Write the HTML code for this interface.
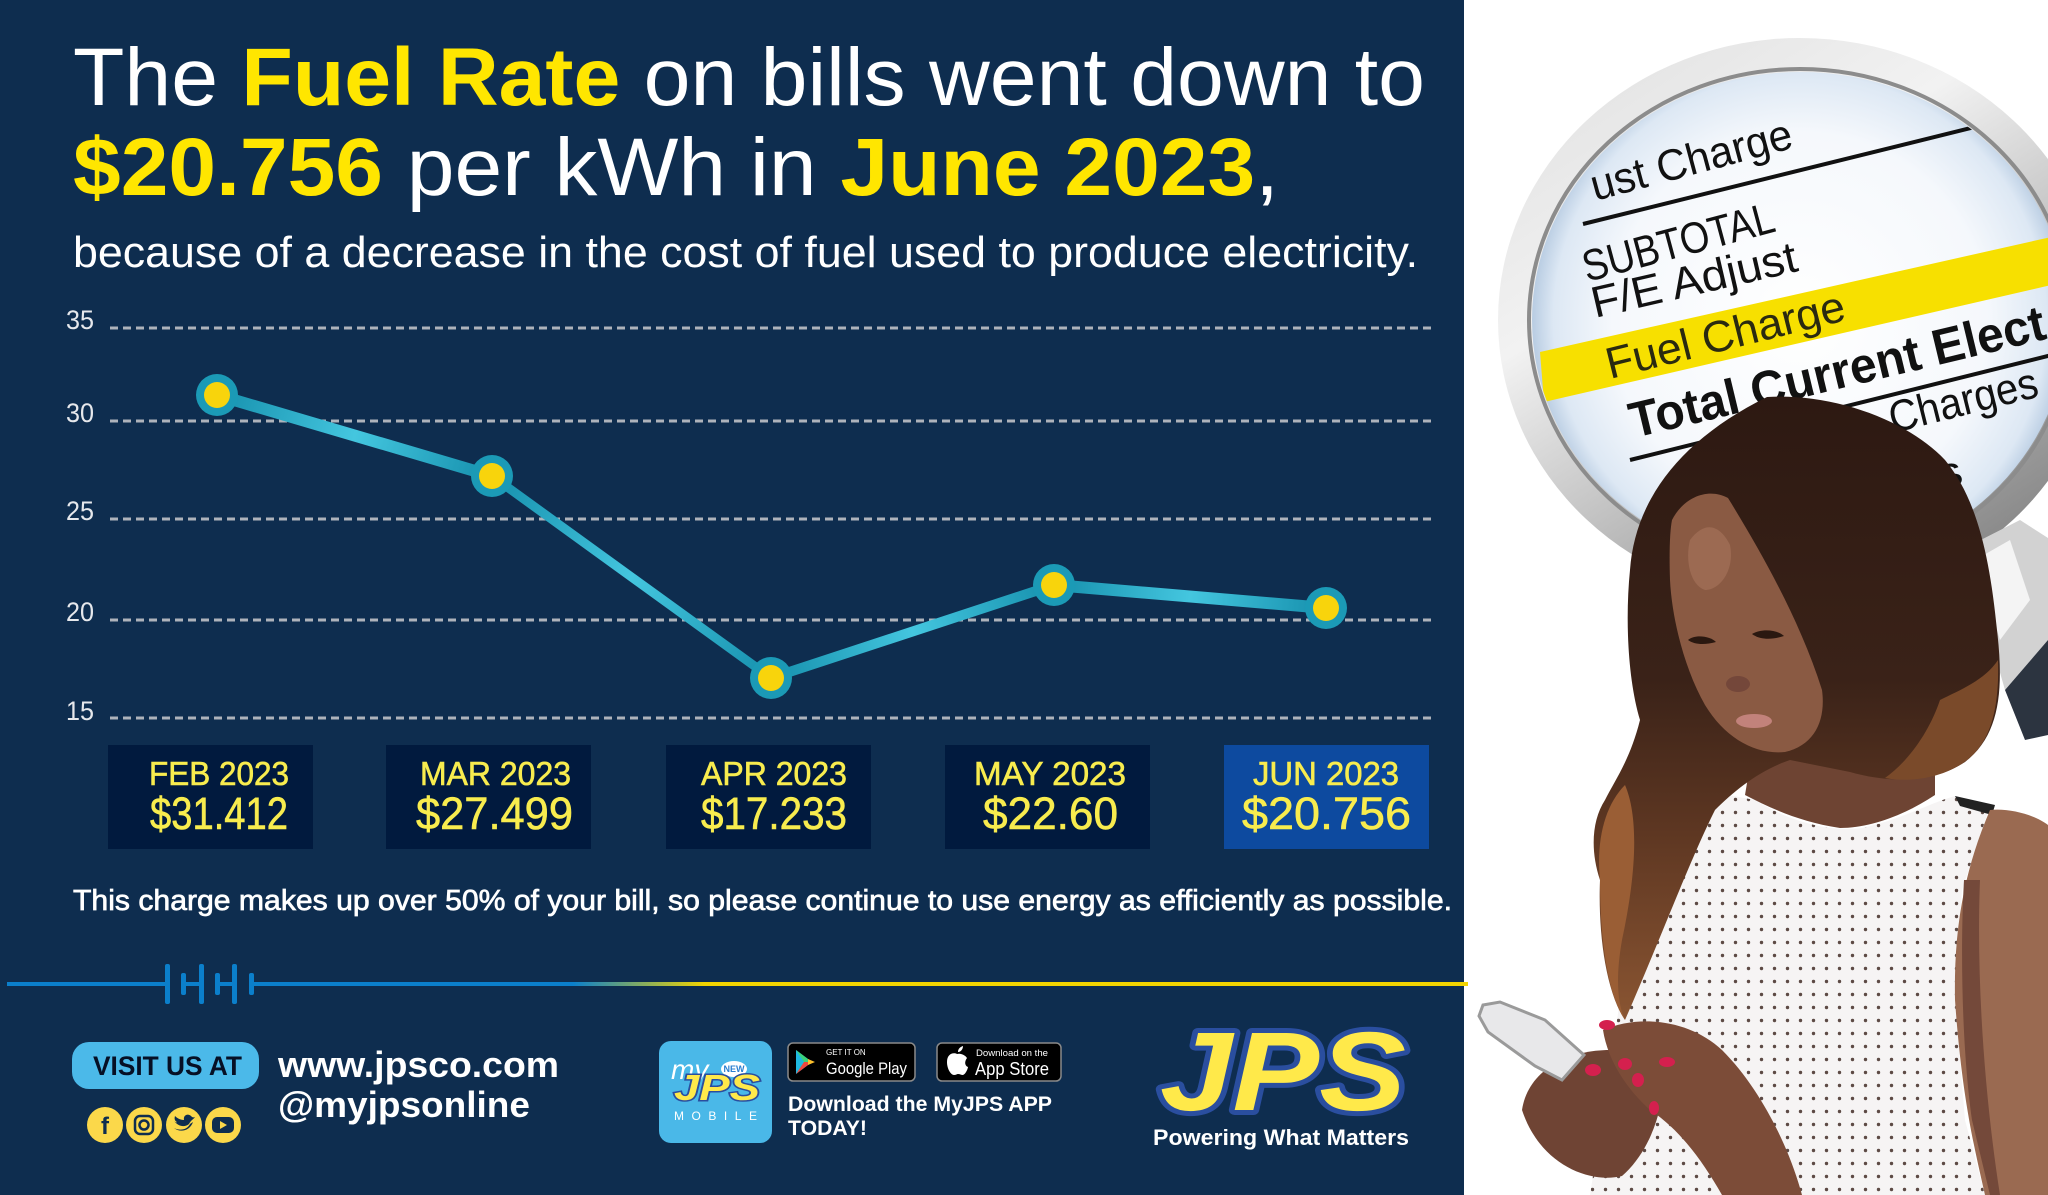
<!DOCTYPE html>
<html><head><meta charset="utf-8"><style>
html,body{margin:0;padding:0;width:2048px;height:1195px;overflow:hidden;background:#0e2d4f}
svg{display:block}
text{font-family:"Liberation Sans",Arial,sans-serif}
</style></head><body>
<svg width="2048" height="1195" viewBox="0 0 2048 1195" xmlns="http://www.w3.org/2000/svg">
<defs>
 <linearGradient id="div" gradientUnits="userSpaceOnUse" x1="0" y1="0" x2="1468" y2="0">
  <stop offset="0" stop-color="#0b7fcb"/><stop offset="0.39" stop-color="#0b7fcb"/><stop offset="0.48" stop-color="#f2d400"/><stop offset="1" stop-color="#f2d400"/>
 </linearGradient>
 <linearGradient id="s1" gradientUnits="userSpaceOnUse" x1="217" y1="395" x2="492" y2="476"><stop offset="0" stop-color="#1690ad"/><stop offset="0.5" stop-color="#44c6df"/><stop offset="1" stop-color="#1690ad"/></linearGradient>
 <linearGradient id="s2" gradientUnits="userSpaceOnUse" x1="492" y1="476" x2="771" y2="678"><stop offset="0" stop-color="#1690ad"/><stop offset="0.5" stop-color="#44c6df"/><stop offset="1" stop-color="#1690ad"/></linearGradient>
 <linearGradient id="s3" gradientUnits="userSpaceOnUse" x1="771" y1="678" x2="1054" y2="585"><stop offset="0" stop-color="#1690ad"/><stop offset="0.5" stop-color="#44c6df"/><stop offset="1" stop-color="#1690ad"/></linearGradient>
 <linearGradient id="s4" gradientUnits="userSpaceOnUse" x1="1054" y1="585" x2="1326" y2="608"><stop offset="0" stop-color="#1690ad"/><stop offset="0.5" stop-color="#44c6df"/><stop offset="1" stop-color="#1690ad"/></linearGradient>
 <radialGradient id="lens" gradientUnits="userSpaceOnUse" cx="1800" cy="320" r="268">
  <stop offset="0" stop-color="#ffffff"/><stop offset="0.7" stop-color="#f5f8fc"/><stop offset="0.92" stop-color="#dde8f4"/><stop offset="1" stop-color="#b8cce2"/>
 </radialGradient>
 <linearGradient id="rim" gradientUnits="userSpaceOnUse" x1="1560" y1="60" x2="1900" y2="600">
  <stop offset="0" stop-color="#e2e2e2"/><stop offset="0.35" stop-color="#f2f2f2"/><stop offset="0.7" stop-color="#b8b8b8"/><stop offset="1" stop-color="#8a8a8a"/>
 </linearGradient>
 <linearGradient id="hair" gradientUnits="userSpaceOnUse" x1="0" y1="400" x2="0" y2="1020">
  <stop offset="0" stop-color="#2d1912"/><stop offset="0.45" stop-color="#3a2218"/><stop offset="0.7" stop-color="#5e3722"/><stop offset="1" stop-color="#8a5532"/>
 </linearGradient>
 <clipPath id="lensClip"><ellipse cx="1800" cy="320" rx="268" ry="248"/></clipPath>
 <pattern id="dots" width="13" height="13" patternUnits="userSpaceOnUse">
  <rect width="13" height="13" fill="#f6f4f4"/><circle cx="6.5" cy="6.5" r="1.7" fill="#5d4a45"/>
 </pattern>
</defs>

<!-- panels -->
<rect x="0" y="0" width="1464" height="1195" fill="#0e2d4f"/>
<rect x="1464" y="0" width="584" height="1195" fill="#ffffff"/>

<!-- headline -->
<text x="73" y="105" font-size="82" fill="#ffffff" textLength="1352" lengthAdjust="spacingAndGlyphs">The <tspan font-weight="bold" fill="#ffe600">Fuel Rate</tspan> on bills went down to</text>
<text x="73" y="195" font-size="82" fill="#ffffff" textLength="1206" lengthAdjust="spacingAndGlyphs"><tspan font-weight="bold" fill="#ffe600">$20.756</tspan> per kWh in <tspan font-weight="bold" fill="#ffe600">June 2023</tspan>,</text>
<text x="73" y="267" font-size="44" fill="#ffffff" textLength="1345" lengthAdjust="spacingAndGlyphs">because of a decrease in the cost of fuel used to produce electricity.</text>

<!-- grid -->
<g stroke="#aeb3bb" stroke-width="3" stroke-dasharray="8 5">
 <line x1="110" y1="328" x2="1432" y2="328"/>
 <line x1="110" y1="421" x2="1432" y2="421"/>
 <line x1="110" y1="519" x2="1432" y2="519"/>
 <line x1="110" y1="620" x2="1432" y2="620"/>
 <line x1="110" y1="718" x2="1432" y2="718"/>
</g>
<g font-size="27" fill="#e6e8ec">
 <text x="66" y="329" textLength="28" lengthAdjust="spacingAndGlyphs">35</text>
 <text x="66" y="422" textLength="28" lengthAdjust="spacingAndGlyphs">30</text>
 <text x="66" y="520" textLength="28" lengthAdjust="spacingAndGlyphs">25</text>
 <text x="66" y="621" textLength="28" lengthAdjust="spacingAndGlyphs">20</text>
 <text x="66" y="720" textLength="28" lengthAdjust="spacingAndGlyphs">15</text>
</g>

<!-- series -->
<g stroke-linecap="round">
 <line x1="217" y1="395" x2="492" y2="476" stroke="url(#s1)" stroke-width="12"/>
 <line x1="492" y1="476" x2="771" y2="678" stroke="url(#s2)" stroke-width="9"/>
 <line x1="771" y1="678" x2="1054" y2="585" stroke="url(#s3)" stroke-width="10"/>
 <line x1="1054" y1="585" x2="1326" y2="608" stroke="url(#s4)" stroke-width="12"/>
</g>
<g>
 <circle cx="217" cy="395" r="21" fill="#1b9ab6"/><circle cx="217" cy="395" r="13" fill="#f8d40c"/>
 <circle cx="492" cy="476" r="21" fill="#1b9ab6"/><circle cx="492" cy="476" r="13" fill="#f8d40c"/>
 <circle cx="771" cy="678" r="21" fill="#1b9ab6"/><circle cx="771" cy="678" r="13" fill="#f8d40c"/>
 <circle cx="1054" cy="585" r="21" fill="#1b9ab6"/><circle cx="1054" cy="585" r="13" fill="#f8d40c"/>
 <circle cx="1326" cy="608" r="21" fill="#1b9ab6"/><circle cx="1326" cy="608" r="13" fill="#f8d40c"/>
</g>

<!-- value boxes -->
<rect x="108" y="745" width="205" height="104" fill="#011a3e"/>
<rect x="386" y="745" width="205" height="104" fill="#011a3e"/>
<rect x="666" y="745" width="205" height="104" fill="#011a3e"/>
<rect x="945" y="745" width="205" height="104" fill="#011a3e"/>
<rect x="1224" y="745" width="205" height="104" fill="#0d4a9f"/>
<g fill="#f8ec4e" stroke="#f8ec4e" stroke-width="0.6">
 <text x="149" y="785" font-size="33" textLength="140" lengthAdjust="spacingAndGlyphs">FEB 2023</text>
 <text x="150" y="829" font-size="45" textLength="138" lengthAdjust="spacingAndGlyphs">$31.412</text>
 <text x="420" y="785" font-size="33" textLength="151" lengthAdjust="spacingAndGlyphs">MAR 2023</text>
 <text x="416" y="829" font-size="45" textLength="157" lengthAdjust="spacingAndGlyphs">$27.499</text>
 <text x="701" y="785" font-size="33" textLength="146" lengthAdjust="spacingAndGlyphs">APR 2023</text>
 <text x="701" y="829" font-size="45" textLength="146" lengthAdjust="spacingAndGlyphs">$17.233</text>
 <text x="974" y="785" font-size="33" textLength="152" lengthAdjust="spacingAndGlyphs">MAY 2023</text>
 <text x="983" y="829" font-size="45" textLength="135" lengthAdjust="spacingAndGlyphs">$22.60</text>
 <text x="1253" y="785" font-size="33" textLength="146" lengthAdjust="spacingAndGlyphs">JUN 2023</text>
 <text x="1242" y="829" font-size="45" textLength="169" lengthAdjust="spacingAndGlyphs">$20.756</text>
</g>

<text x="73" y="910" font-size="29" fill="#ffffff" stroke="#ffffff" stroke-width="0.7" textLength="1379" lengthAdjust="spacingAndGlyphs">This charge makes up over 50% of your bill, so please continue to use energy as efficiently as possible.</text>

<!-- divider -->
<g stroke="url(#div)" stroke-width="4">
 <line x1="7" y1="984" x2="167" y2="984"/>
 <line x1="183" y1="984" x2="201" y2="984"/>
 <line x1="217" y1="984" x2="234" y2="984"/>
 <line x1="251" y1="984" x2="1468" y2="984"/>
</g>
<g fill="#0b7fcb">
 <rect x="165" y="964" width="5" height="40" rx="2"/>
 <rect x="181" y="973" width="5" height="22" rx="2"/>
 <rect x="199" y="964" width="5" height="40" rx="2"/>
 <rect x="215" y="973" width="5" height="22" rx="2"/>
 <rect x="232" y="964" width="5" height="40" rx="2"/>
 <rect x="249" y="973" width="5" height="22" rx="2"/>
</g>

<!-- footer left -->
<rect x="72" y="1042" width="187" height="47" rx="17" fill="#4bb9e9"/>
<text x="93" y="1075" font-size="27" font-weight="bold" fill="#061025" textLength="149" lengthAdjust="spacingAndGlyphs">VISIT US AT</text>
<text x="278" y="1077" font-size="36" font-weight="bold" fill="#ffffff" textLength="281" lengthAdjust="spacingAndGlyphs">www.jpsco.com</text>
<text x="278" y="1117" font-size="36" font-weight="bold" fill="#ffffff" textLength="252" lengthAdjust="spacingAndGlyphs">@myjpsonline</text>
<g fill="#fbd84a">
 <circle cx="105" cy="1125" r="18"/><circle cx="144" cy="1125" r="18"/><circle cx="184" cy="1125" r="18"/><circle cx="223" cy="1125" r="18"/>
</g>
<text x="105" y="1134" font-size="24" font-weight="bold" fill="#0e2d4f" text-anchor="middle">f</text>
<rect x="135" y="1116" width="18" height="18" rx="5" fill="none" stroke="#0e2d4f" stroke-width="2.5"/>
<circle cx="144" cy="1125" r="4.5" fill="none" stroke="#0e2d4f" stroke-width="2.5"/>
<path d="M174,1121 C178,1126 184,1128 189,1124 C191,1120 194,1119 195,1117 C193,1118 192,1117 191,1116 C188,1113 183,1115 184,1120 C180,1120 177,1118 175,1116 C174,1119 175,1121 177,1122 C176,1123 175,1122 174,1121 Z M174,1128 C180,1133 190,1131 193,1122 L190,1124 C187,1130 180,1131 174,1128Z" fill="#0e2d4f"/>
<rect x="212" y="1117" width="22" height="16" rx="5" fill="#0e2d4f"/>
<polygon points="220,1121 220,1129 227,1125" fill="#fbd84a"/>

<!-- app icon -->
<rect x="659" y="1041" width="113" height="102" rx="12" fill="#4ab8e8"/>
<text x="671" y="1079" font-size="28" font-style="italic" fill="#ffffff" font-family="Liberation Serif, serif">my</text>
<ellipse cx="734" cy="1069" rx="13" ry="8" fill="#ffffff"/>
<text x="734" y="1072" font-size="9" font-weight="bold" fill="#2a7fd0" text-anchor="middle">NEW</text>
<text x="674" y="1100" font-size="36" font-weight="bold" font-style="italic" fill="#ffe94a" stroke="#2a4e9f" stroke-width="3" paint-order="stroke" textLength="86" lengthAdjust="spacingAndGlyphs">JPS</text>
<text x="674" y="1120" font-size="12" fill="#ffffff" textLength="83" lengthAdjust="spacing">MOBILE</text>

<!-- badges -->
<rect x="788" y="1043" width="127" height="38" rx="5" fill="#000" stroke="#8a8a8a" stroke-width="1.5"/>
<polygon points="796,1050 812,1062 796,1074" fill="#1fb8e0"/>
<polygon points="796,1050 812,1062 804,1062" fill="#3bd27a"/>
<polygon points="796,1074 812,1062 804,1062" fill="#f0473e"/>
<polygon points="808,1059 815,1062 808,1065" fill="#fbc02d"/>
<text x="826" y="1055" font-size="8" fill="#ffffff">GET IT ON</text>
<text x="826" y="1074" font-size="17" fill="#ffffff" textLength="81" lengthAdjust="spacingAndGlyphs">Google Play</text>
<rect x="937" y="1043" width="124" height="38" rx="5" fill="#000" stroke="#8a8a8a" stroke-width="1.5"/>
<path d="M957,1054 C953,1052 947,1054 947,1062 C947,1069 951,1075 954,1075 C956,1075 957,1074 958,1074 C960,1074 961,1075 963,1075 C966,1074 968,1068 968,1067 C965,1066 964,1062 967,1058 C965,1055 961,1053 957,1054Z M958,1052 C958,1049 960,1047 963,1046 C963,1049 961,1052 958,1052Z" fill="#ffffff"/>
<text x="976" y="1056" font-size="9" fill="#ffffff" textLength="72" lengthAdjust="spacingAndGlyphs">Download on the</text>
<text x="975" y="1075" font-size="18" fill="#ffffff" textLength="74" lengthAdjust="spacingAndGlyphs">App Store</text>
<text x="788" y="1111" font-size="21" font-weight="bold" fill="#ffffff" textLength="264" lengthAdjust="spacingAndGlyphs">Download the MyJPS APP</text>
<text x="788" y="1135" font-size="21" font-weight="bold" fill="#ffffff" textLength="79" lengthAdjust="spacingAndGlyphs">TODAY!</text>

<!-- JPS logo -->
<text x="1160" y="1110" font-size="112" font-weight="bold" font-style="italic" fill="#ffe94a" stroke="#2a4e9f" stroke-width="10" stroke-linejoin="round" paint-order="stroke" textLength="246" lengthAdjust="spacingAndGlyphs">JPS</text>
<text x="1153" y="1145" font-size="22" font-weight="bold" fill="#ffffff" textLength="256" lengthAdjust="spacingAndGlyphs">Powering What Matters</text>

<!-- magnifier -->
<ellipse cx="1800" cy="320" rx="302" ry="282" fill="url(#rim)"/>
<ellipse cx="1800" cy="320" rx="271" ry="251" fill="none" stroke="#8c8c8c" stroke-width="4"/>
<ellipse cx="1800" cy="320" rx="268" ry="248" fill="url(#lens)"/>
<g clip-path="url(#lensClip)" fill="#111">
 <text transform="translate(1595,201) rotate(-15)" font-size="44" textLength="207" lengthAdjust="spacingAndGlyphs">ust Charge</text>
 <line x1="1583" y1="224" x2="2100" y2="96" stroke="#111" stroke-width="4"/>
 <text transform="translate(1587,282) rotate(-15)" font-size="44" textLength="197" lengthAdjust="spacingAndGlyphs">SUBTOTAL</text>
 <text transform="translate(1595,318) rotate(-13)" font-size="44" textLength="210" lengthAdjust="spacingAndGlyphs">F/E Adjust</text>
 <polygon points="1540,352 2060,235 2060,283 1544,402" fill="#f7e000"/>
 <text transform="translate(1610,379) rotate(-14)" font-size="44" fill="#2a2a10" textLength="245" lengthAdjust="spacingAndGlyphs">Fuel  Charge</text>
 <text transform="translate(1634,438) rotate(-13.5)" font-size="50" font-weight="bold" textLength="426" lengthAdjust="spacingAndGlyphs">Total Current Elect</text>
 <line x1="1630" y1="460" x2="2100" y2="343" stroke="#111" stroke-width="4"/>
 <text transform="translate(1893,433) rotate(-14)" font-size="44" textLength="152" lengthAdjust="spacingAndGlyphs">Charges</text>
 <text transform="translate(1640,565) rotate(-14)" font-size="44" textLength="335" lengthAdjust="spacingAndGlyphs">Misc. Charges</text>
</g>
<!-- handle -->
<polygon points="1965,548 2020,520 2048,538 2048,640 2005,690 1985,620" fill="#d2d2d2"/>
<polygon points="1975,560 2010,540 2030,600 2000,640" fill="#f4f4f4"/>
<polygon points="2005,690 2048,640 2048,735 2025,740" fill="#2c3440"/>

<!-- woman -->
<!-- dress -->
<path d="M1712,792 L1755,800 C1790,822 1830,832 1862,828 C1900,820 1930,803 1955,796 L1988,812 L1962,890 L1955,1000 L1965,1120 L1985,1195 L1590,1195 L1605,1100 L1620,1000 L1660,900 Z" fill="url(#dots)"/>
<path d="M1955,796 L1995,805 L1992,815 L1960,806 Z" fill="#222"/>
<!-- arm -->
<path d="M1990,810 C2010,808 2035,815 2048,825 L2048,1195 L1985,1195 C1975,1150 1962,1100 1955,1000 C1954,940 1960,880 1990,810 Z" fill="#9a6a51"/>
<path d="M1964,880 C1960,950 1962,1050 1972,1120 L1990,1195 L2000,1195 C1985,1100 1976,980 1980,880 Z" fill="#74493a"/>
<!-- neck -->
<path d="M1755,735 L1880,745 L1935,775 L1935,795 C1905,815 1870,828 1840,828 C1800,822 1770,808 1745,795 Z" fill="#6e4433"/>
<!-- hair -->
<path d="M1767,397 C1830,393 1905,418 1945,460 C1978,500 1990,560 1997,630 C2004,690 2000,735 1965,762 C1930,785 1885,782 1850,772 L1790,760 C1760,770 1735,790 1715,810 C1690,860 1660,940 1625,1020 C1605,990 1598,930 1600,880 C1590,850 1592,820 1605,800 C1615,780 1630,760 1640,720 C1628,680 1625,620 1630,570 C1635,500 1680,440 1767,397 Z" fill="url(#hair)"/>
<path d="M1600,880 C1596,840 1605,805 1625,785 C1640,820 1635,880 1622,940 C1615,980 1618,1005 1625,1020 C1608,995 1600,940 1600,880 Z" fill="#9a5e35"/>
<path d="M1940,700 C1960,690 1985,680 1998,660 C2000,720 1985,750 1960,765 C1935,780 1905,782 1885,778 C1910,760 1930,730 1940,700 Z" fill="#7a4a2a"/>
<!-- face -->
<path d="M1672,520 C1685,495 1710,488 1728,498 C1760,550 1800,620 1822,690 C1826,720 1815,745 1785,752 C1755,755 1725,738 1705,705 C1685,670 1672,620 1670,580 C1669,550 1670,530 1672,520 Z" fill="#8a5a43"/>
<path d="M1690,540 C1705,520 1720,525 1730,545 C1735,570 1720,590 1705,590 C1690,585 1685,560 1690,540Z" fill="#9c6a52"/>
<path d="M1688,640 C1695,634 1710,636 1716,642 C1705,645 1695,645 1688,640Z" fill="#2a1810"/>
<path d="M1752,634 C1762,628 1778,630 1784,636 C1772,640 1760,640 1752,634Z" fill="#2a1810"/>
<ellipse cx="1738" cy="684" rx="12" ry="8" fill="#74473a"/>
<ellipse cx="1754" cy="721" rx="18" ry="7" fill="#c2827b"/>
<!-- hands -->
<path d="M1522,1110 C1528,1070 1568,1050 1610,1050 L1662,1062 C1668,1100 1652,1150 1622,1176 C1590,1184 1540,1165 1522,1110 Z" fill="#6f4434"/>
<path d="M1603,1030 C1640,1014 1690,1020 1722,1050 C1762,1090 1790,1150 1802,1195 L1722,1195 C1702,1160 1680,1130 1650,1110 C1628,1090 1608,1062 1603,1030 Z" fill="#7c4c38"/>
<polygon points="1483,1005 1500,1002 1545,1020 1584,1055 1562,1080 1535,1066 1488,1032 1479,1016" fill="#e8e8ea" stroke="#9a9a9a" stroke-width="3"/>
<g fill="#d4204e">
 <ellipse cx="1607" cy="1025" rx="8" ry="5"/>
 <ellipse cx="1593" cy="1070" rx="8" ry="6"/>
 <ellipse cx="1625" cy="1064" rx="7" ry="6"/>
 <ellipse cx="1638" cy="1080" rx="6" ry="7"/>
 <ellipse cx="1667" cy="1062" rx="8" ry="5"/>
 <ellipse cx="1654" cy="1108" rx="5" ry="7"/>
</g>
</svg>
</body></html>
